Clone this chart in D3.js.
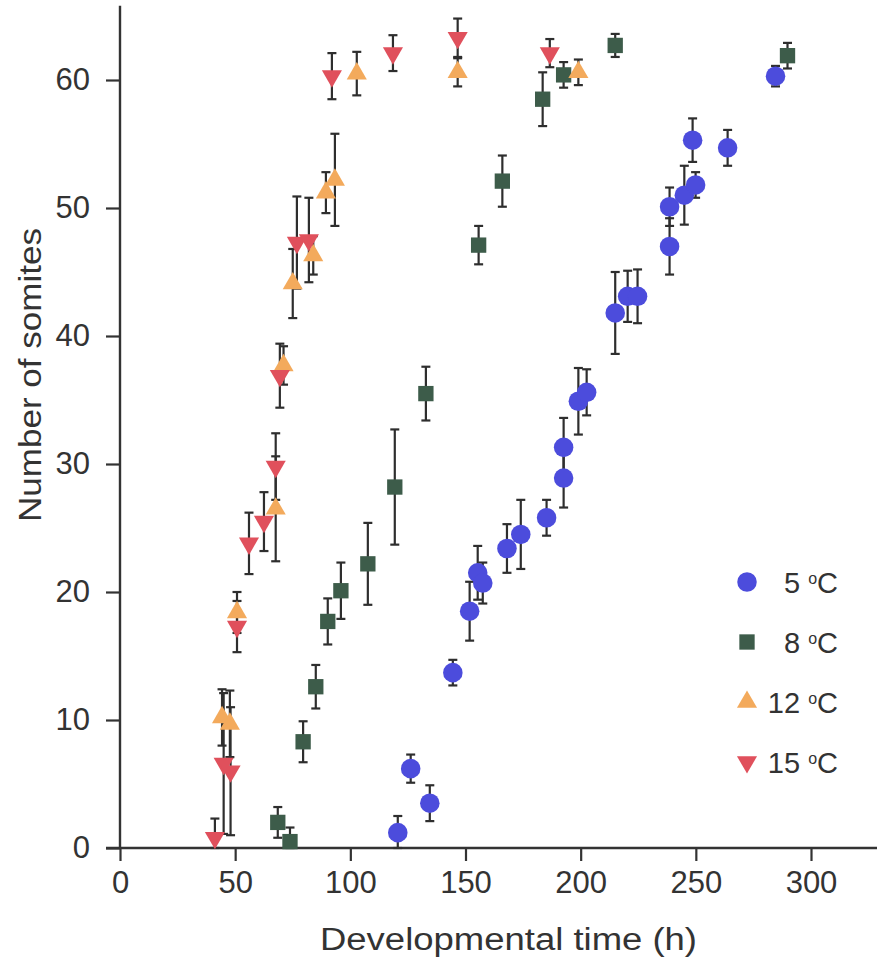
<!DOCTYPE html>
<html>
<head>
<meta charset="utf-8">
<script src="https://cdn.jsdelivr.net/npm/d3@7"></script>
<style>
  body { margin: 0; background: #fff; }
  svg text { font-family: "Liberation Sans", Arial, sans-serif; fill: #333; }
</style>
</head>
<body>
<svg width="877" height="970"></svg>
<script>
// each point: [time (h), mean number of somites, error (+/-)]
var temp5 = [
  [120.6, 1.2, 1.3], [126.2, 6.2, 1.1], [134.5, 3.5, 1.4], [144.5, 13.7, 1.0],
  [151.8, 18.5, 2.3], [155.3, 21.5, 2.1], [157.5, 20.7, 1.6], [168, 23.4, 1.9],
  [174, 24.5, 2.7], [185.2, 25.8, 1.4], [192.6, 28.9, 2.3], [192.6, 31.3, 2.3],
  [199, 34.9, 2.6], [202.6, 35.6, 1.8], [215, 41.8, 3.2], [220.4, 43.1, 2.0],
  [224.7, 43.1, 2.1], [238.6, 47.0, 2.2], [238.6, 50.1, 1.5], [245, 51.0, 2.3],
  [248.6, 55.3, 1.7], [249.9, 51.8, 1.0], [263.8, 54.7, 1.4], [284.6, 60.3, 0.8]
];
var temp8 = [
  [68.5, 2.0, 1.2], [73.8, 0.5, 1.1], [79.5, 8.3, 1.6], [85, 12.6, 1.7],
  [90.2, 17.7, 1.8], [95.9, 20.1, 2.2], [107.6, 22.2, 3.2], [119.3, 28.2, 4.5],
  [132.8, 35.5, 2.1], [155.7, 47.1, 1.5], [166, 52.1, 2.0], [183.5, 58.5, 2.1],
  [192.6, 60.4, 1.0], [215, 62.7, 0.9], [289.8, 61.9, 1.0]
];
var temp12 = [
  [44.3, 10.2, 2.2], [47.7, 9.7, 2.6], [50.8, 18.4, 1.6], [67.6, 26.5, 4.1],
  [71, 37.7, 1.5], [75, 44.1, 2.7], [83.9, 46.3, 1.5], [89.4, 51.2, 1.6],
  [93.3, 52.2, 3.6], [102.8, 60.5, 1.7], [146.6, 60.6, 1.1], [199, 60.6, 1.0]
];
var temp15 = [
  [41.2, 0.8, 1.5], [45, 6.6, 5.5], [48, 6.0, 5.0], [50.8, 17.3, 2.0],
  [56, 23.8, 2.4], [62.5, 25.5, 2.3], [67.6, 29.8, 2.6], [69.4, 36.9, 2.5],
  [76.8, 47.3, 3.6], [82, 47.5, 3.3], [92, 60.3, 1.8], [118.5, 62.1, 1.4],
  [146.6, 63.3, 1.5], [186.6, 62.1, 1.1]
];

var legendTemps = ["5", "8", "12", "15"];
var xTicks = [0, 50, 100, 150, 200, 250, 300];
var yTicks = [0, 10, 20, 30, 40, 50, 60];

var series = [
  { data: temp5,  color: "#4c4cdc", symbol: d3.symbolCircle,   size: 300, rot: 0 },
  { data: temp8,  color: "#3d5c4a", symbol: d3.symbolSquare,   size: 235, rot: 0 },
  { data: temp12, color: "#f3aa5c", symbol: d3.symbolTriangle, size: 175, rot: 0 },
  { data: temp15, color: "#e0505c", symbol: d3.symbolTriangle, size: 175, rot: 180 }
];

var svg = d3.select("svg");

var x = d3.scaleLinear().domain([0, 300]).range([120, 811]);
var y = d3.scaleLinear().domain([0, 60]).range([848, 80]);

// axes
var xAxis = d3.axisBottom(x).tickValues(xTicks).tickSize(13).tickSizeOuter(0).tickPadding(10);
var yAxis = d3.axisLeft(y).tickValues(yTicks).tickSize(14).tickSizeOuter(0).tickPadding(16);

var gx = svg.append("g").attr("transform", "translate(0," + y(0) + ")").call(xAxis);
var gy = svg.append("g").attr("transform", "translate(" + x(0) + ",0)").call(yAxis);

[gx, gy].forEach(function(g) {
  g.select(".domain").remove();
  g.selectAll(".tick line").attr("stroke", "#333").attr("stroke-width", 2.2);
  g.selectAll(".tick text")
    .attr("fill", "#333")
    .style("font-size", "31px");
});

// axis lines: x runs to the right edge, y runs past the top tick
svg.append("line")
    .attr("x1", x(0) - 14).attr("x2", 877)
    .attr("y1", y(0)).attr("y2", y(0))
    .attr("stroke", "#333").attr("stroke-width", 2.4);
svg.append("line")
    .attr("x1", x(0)).attr("x2", x(0))
    .attr("y1", y(0)).attr("y2", y(65.8))
    .attr("stroke", "#333").attr("stroke-width", 2.4);

// axis titles
svg.append("text")
    .attr("x", 320).attr("y", 950)
    .attr("textLength", 377).attr("lengthAdjust", "spacingAndGlyphs")
    .style("font-size", "31px")
    .text("Developmental time (h)");

svg.append("text")
    .attr("transform", "translate(41,522) rotate(-90)")
    .attr("textLength", 294).attr("lengthAdjust", "spacingAndGlyphs")
    .style("font-size", "31px")
    .text("Number of somites");

// error bars then markers
var capW = 4.5;
series.forEach(function(s) {
  var g = svg.append("g");
  var bars = g.selectAll("g.bar").data(s.data).enter().append("g")
      .attr("stroke", "#2e2e2e").attr("stroke-width", 2.2);
  bars.append("line")
      .attr("x1", function(d) { return x(d[0]); })
      .attr("x2", function(d) { return x(d[0]); })
      .attr("y1", function(d) { return y(d[1] + d[2]); })
      .attr("y2", function(d) { return y(Math.max(0, d[1] - d[2])); });
  bars.append("line")
      .attr("x1", function(d) { return x(d[0]) - capW; })
      .attr("x2", function(d) { return x(d[0]) + capW; })
      .attr("y1", function(d) { return y(d[1] + d[2]); })
      .attr("y2", function(d) { return y(d[1] + d[2]); });
  bars.append("line")
      .attr("x1", function(d) { return x(d[0]) - capW; })
      .attr("x2", function(d) { return x(d[0]) + capW; })
      .attr("y1", function(d) { return y(Math.max(0, d[1] - d[2])); })
      .attr("y2", function(d) { return y(Math.max(0, d[1] - d[2])); });
});

series.forEach(function(s) {
  svg.append("g").selectAll("path").data(s.data).enter().append("path")
      .attr("d", d3.symbol().type(s.symbol).size(s.size))
      .attr("transform", function(d) {
        return "translate(" + x(d[0]) + "," + y(d[1]) + ") rotate(" + s.rot + ")";
      })
      .attr("fill", s.color);
});

// legend
var legendY = d3.scalePoint().domain(legendTemps).range([582, 762]);
var legend = svg.append("g").selectAll("g").data(series).enter().append("g")
    .attr("transform", function(d, i) { return "translate(0," + legendY(legendTemps[i]) + ")"; });

legend.append("path")
    .attr("d", function(d) { return d3.symbol().type(d.symbol).size(d.size)(); })
    .attr("transform", function(d) { return "translate(747,0) rotate(" + d.rot + ")"; })
    .attr("fill", function(d) { return d.color; });

var lt = legend.append("text")
    .attr("x", 838).attr("y", 11)
    .attr("text-anchor", "end")
    .style("font-size", "29px");
lt.append("tspan").text(function(d, i) { return legendTemps[i] + " "; });
lt.append("tspan").attr("dy", -9).style("font-size", "16px").text("o");
lt.append("tspan").attr("dy", 9).text("C");
</script>
</body>
</html>
